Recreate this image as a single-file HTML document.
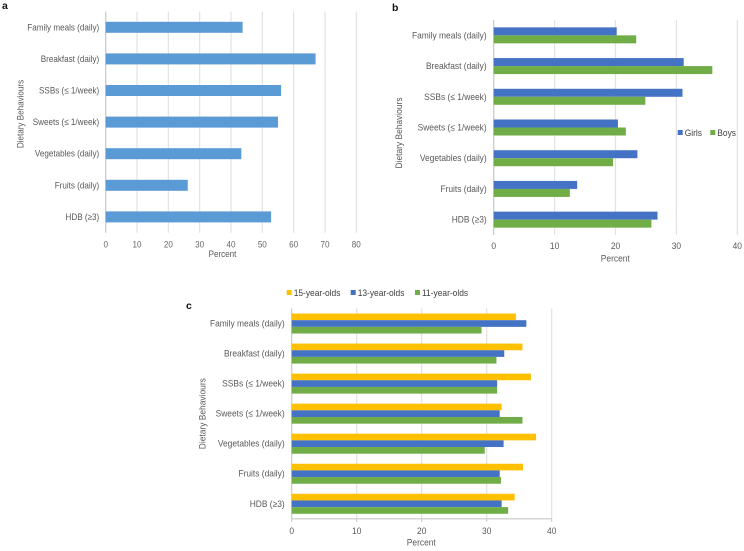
<!DOCTYPE html>
<html>
<head>
<meta charset="utf-8">
<title>Dietary behaviours charts</title>
<style>
html,body{margin:0;padding:0;background:#fff;}
svg{display:block;}
text{font-family:"Liberation Sans","DejaVu Sans",sans-serif;}
</style>
</head>
<body>
<svg id="chart" xmlns="http://www.w3.org/2000/svg" width="744" height="551" viewBox="0 0 744 551"></svg>
<script>
const categories = ["Family meals (daily)", "Breakfast (daily)", "SSBs (\u2264 1/week)", "Sweets (\u2264 1/week)", "Vegetables (daily)", "Fruits (daily)", "HDB (\u22653)"];
const ticksA = [0, 10, 20, 30, 40, 50, 60, 70, 80];
const ticksBC = [0, 10, 20, 30, 40];
const overall = [43.7, 67, 56, 55, 43.3, 26.2, 52.8];
const girls = [20.2, 31.2, 31, 20.4, 23.6, 13.7, 26.9];
const boys = [23.4, 35.9, 24.9, 21.7, 19.6, 12.5, 25.9];
const age15 = [34.5, 35.5, 36.8, 32.3, 37.6, 35.6, 34.3];
const age13 = [36.1, 32.7, 31.6, 32, 32.6, 32, 32.3];
const age11 = [29.2, 31.5, 31.6, 35.5, 29.7, 32.2, 33.3];

const svg = document.getElementById('chart');
const NS = 'http://www.w3.org/2000/svg';
const TEXT = '#595959';

function make(tag, attrs, parent) {
  const el = document.createElementNS(NS, tag);
  for (const k in attrs) el.setAttribute(k, attrs[k]);
  parent.appendChild(el);
  return el;
}

function squeeze(el, factor) {
  const len = el.getComputedTextLength();
  el.setAttribute('textLength', (len * factor).toFixed(2));
  el.setAttribute('lengthAdjust', 'spacingAndGlyphs');
}

function drawPanel(cfg) {
  const g = make('g', {}, svg);
  
  
  const maxTick = cfg.ticks[cfg.ticks.length - 1];
  const xScale = v => cfg.x0 + (v / maxTick) * (cfg.x1 - cfg.x0);
  const step = (cfg.y1 - cfg.y0) / categories.length;
  const yScale = i => cfg.y0 + step * (i + 0.5);

  cfg.ticks.forEach(t => {
    const grid = make('line', {x1: xScale(t), x2: xScale(t), y1: cfg.y0, y2: cfg.y1, stroke: t === 0 ? '#c8c8c8' : '#e2e2e2', 'stroke-width': 1.2}, g);
    
    
    if (cfg.axisLine) {
      const tick = make('line', {x1: xScale(t), x2: xScale(t), y1: cfg.y1, y2: cfg.y1 + 3, stroke: '#c0c0c0', 'stroke-width': 1}, g);
      
      
    }
    const label = make('text', {x: xScale(t), y: cfg.y1 + cfg.tickGap, 'text-anchor': 'middle', 'font-size': cfg.fontSize, fill: cfg.tickFill || TEXT}, g);
    label.textContent = t;
    squeeze(label, cfg.squeeze);
    
    
  });

  if (cfg.axisLine) {
    const axis = make('line', {x1: cfg.x0, x2: cfg.x1, y1: cfg.y1, y2: cfg.y1, stroke: '#c8c8c8', 'stroke-width': 1.2}, g);
    
    
  }

  categories.forEach((c, i) => {
    const label = make('text', {x: cfg.x0 - cfg.labelGap, y: yScale(i) + 3, 'text-anchor': 'end', 'font-size': cfg.fontSize, fill: TEXT}, g);
    label.textContent = c;
    squeeze(label, cfg.squeeze);
    
    
    const total = cfg.series.length * cfg.barH;
    cfg.series.forEach((s, j) => {
      const bar = make('rect', {x: xScale(0), y: yScale(i) - total / 2 + j * cfg.barH, width: xScale(s.values[i]) - xScale(0), height: cfg.barH, fill: s.color}, g);
      
      
    });
  });

  const xTitle = make('text', {x: cfg.xTitleX, y: cfg.xTitleY, 'text-anchor': 'middle', 'font-size': cfg.fontSize, fill: TEXT}, g);
  xTitle.textContent = 'Percent';
  squeeze(xTitle, cfg.squeeze);
  
  

  const yTitle = make('text', {x: 0, y: 0, 'text-anchor': 'middle', 'font-size': cfg.fontSize, fill: TEXT, transform: 'translate(' + cfg.yTitleX + ' ' + cfg.yTitleY + ') rotate(-90)'}, g);
  yTitle.textContent = 'Dietary Behaviours';
  squeeze(yTitle, cfg.squeeze);
  
  

  const letter = make('text', {x: cfg.letterX, y: cfg.letterY, 'font-size': 10.5, 'font-weight': 'bold', fill: '#111'}, g);
  letter.textContent = cfg.letter;
  
  

  (cfg.legend || []).forEach(item => {
    const swatch = make('rect', {x: item.x, y: item.y - 6, width: 5, height: 5, fill: item.color}, g);
    
    
    const text = make('text', {x: item.x + 7, y: item.y, 'font-size': cfg.fontSize, fill: '#404040'}, g);
    text.textContent = item.label;
    squeeze(text, cfg.squeeze);
    
    
  });
}

drawPanel({
  id: 'panel-a', letter: 'a', letterX: 2, letterY: 9,
  x0: 105.7, x1: 356.3, y0: 11.5, y1: 232.7, ticks: ticksA,
  barH: 11, fontSize: 9.2, squeeze: 0.88, tickGap: 15, labelGap: 6.5, tickFill: '#666',
  xTitleX: 222.5, xTitleY: 257, yTitleX: 23.5, yTitleY: 114,
  series: [{values: overall, color: '#5b9bd5'}]
});

drawPanel({
  id: 'panel-b', letter: 'b', letterX: 392, letterY: 11,
  x0: 493.7, x1: 737.3, y0: 20, y1: 235, ticks: ticksBC,
  barH: 8, fontSize: 9.2, squeeze: 0.915, tickGap: 14, labelGap: 7,
  xTitleX: 615.3, xTitleY: 261.5, yTitleX: 402, yTitleY: 133,
  series: [{values: girls, color: '#4472c4'}, {values: boys, color: '#70ad47'}],
  legend: [{x: 677.7, y: 136, color: '#4472c4', label: 'Girls'}, {x: 710.3, y: 136, color: '#70ad47', label: 'Boys'}]
});

drawPanel({
  id: 'panel-c', letter: 'c', letterX: 186, letterY: 309,
  x0: 291.7, x1: 551.7, y0: 308.5, y1: 518.8, ticks: ticksBC, axisLine: true,
  barH: 6.67, fontSize: 9.2, squeeze: 0.915, tickGap: 15, labelGap: 7,
  xTitleX: 421.3, xTitleY: 545.5, yTitleX: 205.5, yTitleY: 413.7,
  series: [{values: age15, color: '#ffc000'}, {values: age13, color: '#4472c4'}, {values: age11, color: '#70ad47'}],
  legend: [{x: 286.7, y: 296, color: '#ffc000', label: '15-year-olds'}, {x: 350.7, y: 296, color: '#4472c4', label: '13-year-olds'}, {x: 415, y: 296, color: '#70ad47', label: '11-year-olds'}]
});
</script>
</body>
</html>
